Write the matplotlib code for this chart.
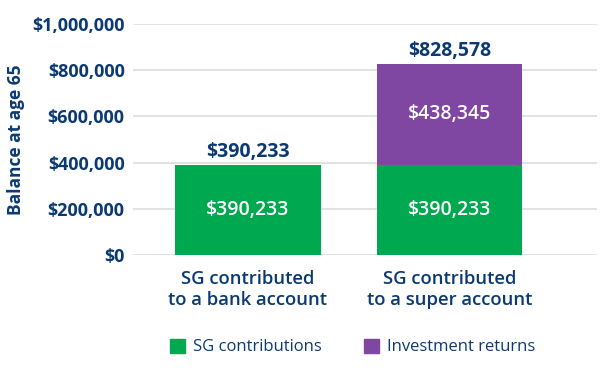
import matplotlib
matplotlib.use("Agg")
import matplotlib.pyplot as plt
from matplotlib.patches import Patch

plt.rcParams['font.family'] = ['Open Sans', 'DejaVu Sans']

categories = ["SG contributed\nto a bank account", "SG contributed\nto a super account"]
sg_contrib = [390233, 390233]
inv_returns = [0, 438345]
totals = [390233, 828578]
yticks = [0, 200000, 400000, 600000, 800000, 1000000]

navy = "#0b3a73"
green = "#00a84f"
purple = "#7f47a1"

fig = plt.figure(figsize=(6, 3.7), dpi=100)
ax = fig.add_axes([133 / 600, 115 / 370, 464 / 600, 231 / 370])

x = range(len(categories))
ax.bar(x, sg_contrib, width=0.72, color=green, zorder=3)
ax.bar(x, inv_returns, width=0.72, bottom=sg_contrib, color=purple, zorder=3)

for i in x:
    ax.text(i, sg_contrib[i] / 2, f"${sg_contrib[i]:,}", ha="center", va="center",
            color="white", fontsize=14, fontweight="semibold", zorder=4)
    if inv_returns[i] > 0:
        ax.text(i, sg_contrib[i] + inv_returns[i] / 2, f"${inv_returns[i]:,}",
                ha="center", va="center", color="white", fontsize=14,
                fontweight="semibold", zorder=4)
    ax.text(i, totals[i] + 12000, f"${totals[i]:,}", ha="center", va="bottom",
            color=navy, fontsize=14, fontweight="bold")

ax.set_xlim(-0.57, 1.73)
ax.set_ylim(0, 1000000)
ax.set_yticks(yticks)
ax.set_yticklabels([f"${v:,}" for v in yticks], color=navy, fontsize=13, fontweight="bold")
ax.set_xticks(list(x))
ax.set_xticklabels(categories, color=navy, fontsize=13.3, fontweight="semibold", linespacing=1.2)
ax.tick_params(axis="both", length=0, pad=6)
ax.tick_params(axis="x", pad=11)
ax.grid(axis="y", color="#dddddd", linewidth=1.2, zorder=0)
for s in ax.spines.values():
    s.set_visible(False)
ax.set_ylabel("Balance at age 65", color=navy, fontsize=12.5, fontweight="bold", labelpad=5)

handles = [Patch(color=green, label="SG contributions"),
           Patch(color=purple, label="Investment returns")]
fig.legend(handles=handles, loc="center", bbox_to_anchor=(0.588, 0.062), ncol=2,
           frameon=False, fontsize=12, handlelength=0.9, handleheight=0.9,
           handletextpad=0.5, columnspacing=2.5, labelcolor=navy)

fig.savefig("out.png", dpi=100)
